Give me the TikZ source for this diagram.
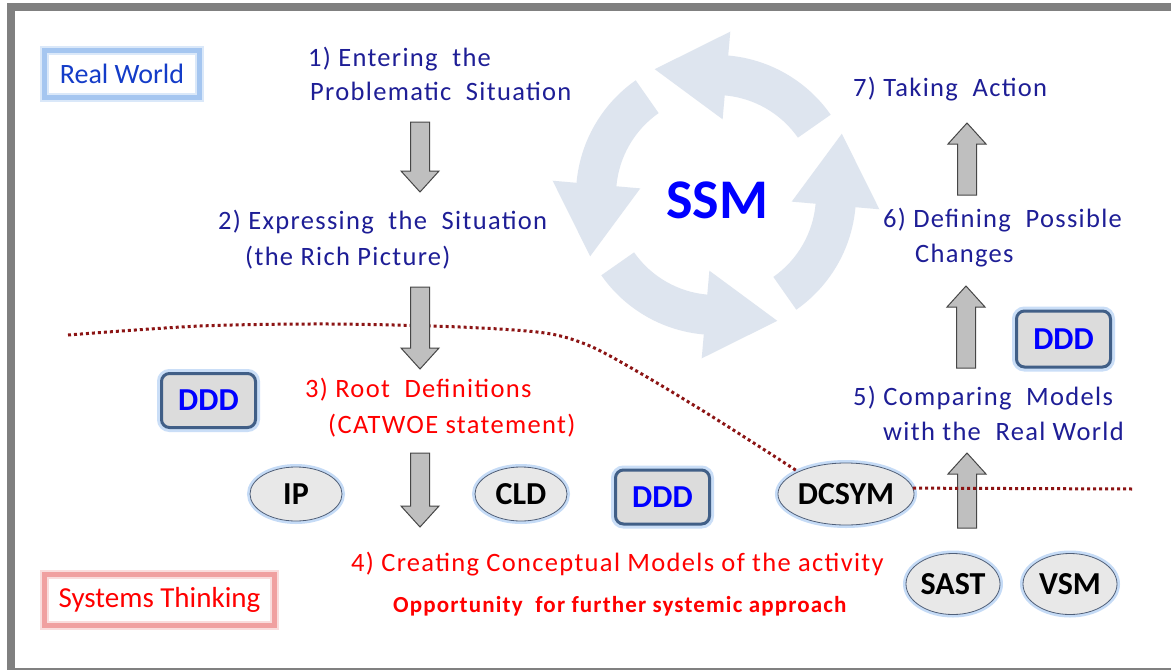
\documentclass[tikz,border=0pt]{standalone}
\usepackage{fontspec}
\setmainfont{Carlito}
\newfontfamily\stepfont[LetterSpace=5]{Carlito}
\usetikzlibrary{calc,shapes.geometric}
\definecolor{navy}{RGB}{30,30,150}
\definecolor{rwblue}{RGB}{20,60,200}
\definecolor{pred}{RGB}{255,0,0}
\definecolor{pblue}{RGB}{0,0,255}
\definecolor{ringc}{RGB}{222,229,239}
\definecolor{arrfill}{RGB}{191,191,191}
\definecolor{arrdraw}{RGB}{70,70,70}
\definecolor{dotred}{RGB}{140,20,20}
\definecolor{framegray}{RGB}{128,128,128}
\definecolor{glowblue}{RGB}{150,190,240}
\definecolor{dddfill}{RGB}{220,220,220}
\definecolor{dddborder}{RGB}{65,95,135}
\definecolor{ellfill}{RGB}{232,232,232}
\definecolor{ellborder}{RGB}{80,95,120}
\definecolor{rwborder}{RGB}{165,198,240}
\definecolor{stborder}{RGB}{240,160,160}
\tikzset{
  steptext/.style={text=navy, font=\stepfont\fontsize{26.5}{31}\selectfont, anchor=base west, inner sep=0pt},
  redtext/.style={steptext, text=pred},
  dddbox/.style={rounded corners=8pt, fill=dddfill, draw=dddborder, line width=3pt,
    minimum width=94pt, minimum height=54pt, text=pblue, inner sep=0pt,
    font=\bfseries\fontsize{32}{36}\selectfont,
    preaction={draw=glowblue, line width=9pt, opacity=0.5}},
  ell/.style={ellipse, fill=ellfill, draw=ellborder, line width=0.8pt, inner sep=0pt,
    font=\bfseries\fontsize{32}{36}\selectfont,
    preaction={draw=glowblue, line width=6pt, opacity=0.55}},
  labelbox/.style={line width=5pt, inner sep=0pt},
  ringarrow/.style={fill=ringc},
  blockarrow/.style={fill=arrfill, draw=arrdraw, line width=1pt, line join=miter},
  divider/.style={draw=dotred, line width=3pt, dash pattern=on 3pt off 3pt},
  dnarrow/.pic={\path[blockarrow] (-9.5,0) -- (9.5,0) -- (9.5,#1-21) -- (19,#1-21) -- (0,#1) -- (-19,#1-21) -- (-9.5,#1-21) -- cycle;}
}
\begin{document}
\begin{tikzpicture}[x=1pt,y=-1pt]
\useasboundingbox (0,0) rectangle (1171,670);
\fill[white] (0,0) rectangle (1171,670);
% frame
\fill[framegray] (7,3) rectangle (1171,11);
\fill[framegray] (7,3) rectangle (15,670);
\fill[framegray] (7,668) rectangle (1171,670);

% SSM cycle
\begin{scope}[shift={(716,195)}, yscale=-1]
\foreach \p in {0,90,180,270}{
  \fill[ringarrow] (\p-55:100) arc[start angle=\p-55, end angle=\p-5, radius=100]
    -- (\p-5:76) -- ($(\p-5:120)+(\p+85:72)$) -- (\p-5:164) -- (\p-5:140)
    arc[start angle=\p-5, end angle=\p-55, radius=140] -- cycle;
}
\end{scope}
\node[text=pblue, font=\bfseries\fontsize{56}{60}\selectfont, inner sep=0pt] (ssm) at (717,200) {SSM};

% label boxes
\node[labelbox, draw=rwborder, text=rwblue, font=\fontsize{28}{32}\selectfont,
  minimum width=155pt, minimum height=47pt,
  preaction={draw=glowblue, line width=9pt, opacity=0.35}] (rw) at (122,74) {Real World};
\node[labelbox, draw=stborder, text=pred, font=\fontsize{29}{33}\selectfont,
  minimum width=230pt, minimum height=51pt,
  preaction={draw=stborder, line width=9pt, opacity=0.35}] (st) at (159.5,600) {Systems Thinking};

% dividing line (left part, under arrow)
\node[ell, minimum width=126pt, minimum height=62pt] (dcsym) at (846,494) {DCSYM};
\coordinate (dl0) at (68,335);
\coordinate (dl1) at (1133,489);
\draw[divider] plot[smooth] coordinates {(dl0) (200,326) (330,324) (460,327) (545,333) (590,346) (640,373) (700,409) (760,447) (dcsym.155)};

% step texts
\node[steptext] (s1a) at (308,66) {1) Entering~ the};
\node[steptext] (s1b) at (310,100) {Problematic~ Situation};
\node[steptext] (s2a) at (218,229) {2) Expressing~ the~ Situation};
\node[steptext] (s2b) at (245,265) {(the Rich Picture)};
\node[redtext] (s3a) at (305,397) {3) Root~ Definitions};
\node[redtext] (s3b) at (328,433) {(CATWOE statement)};
\node[redtext] (s4a) at (351,571) {4) Creating Conceptual Models of the activity};
\node[redtext, font=\stepfont\bfseries\fontsize{23}{27}\selectfont] (s4b) at (393,612) {Opportunity~ for further systemic approach};
\node[steptext] (s5a) at (853,405) {5) Comparing~ Models};
\node[steptext] (s5b) at (883,440) {with the~ Real World};
\node[steptext] (s6a) at (883,227) {6) Defining~ Possible};
\node[steptext] (s6b) at (915,262) {Changes};
\node[steptext] (s7) at (853,96) {7) Taking~ Action};

% block arrows
\pic at (420,122) {dnarrow=70};
\pic at (420,287) {dnarrow=82};
\pic at (420,453) {dnarrow=74};
\pic[rotate=180] at (967,528) {dnarrow=75};
\pic[rotate=180] at (966,368) {dnarrow=82};
\pic[rotate=180] at (967,195) {dnarrow=72};

% right part of dividing line
\draw[divider] (dcsym.5) -- (dl1);

% DDD boxes
\node[dddbox] (ddd1) at (208.5,400.5) {DDD};
\node[dddbox] (ddd2) at (662.5,497) {DDD};
\node[dddbox, minimum height=56pt] (ddd3) at (1063.5,339) {DDD};

% ellipses
\node[ell, minimum width=92pt, minimum height=54pt] (ip) at (296,494) {IP};
\node[ell, minimum width=92pt, minimum height=54pt] (cld) at (521,494) {CLD};
\node[ell, minimum width=94pt, minimum height=61pt] (sast) at (953,584) {SAST};
\node[ell, minimum width=94pt, minimum height=61pt] (vsm) at (1070,584) {VSM};
\end{tikzpicture}
\end{document}
